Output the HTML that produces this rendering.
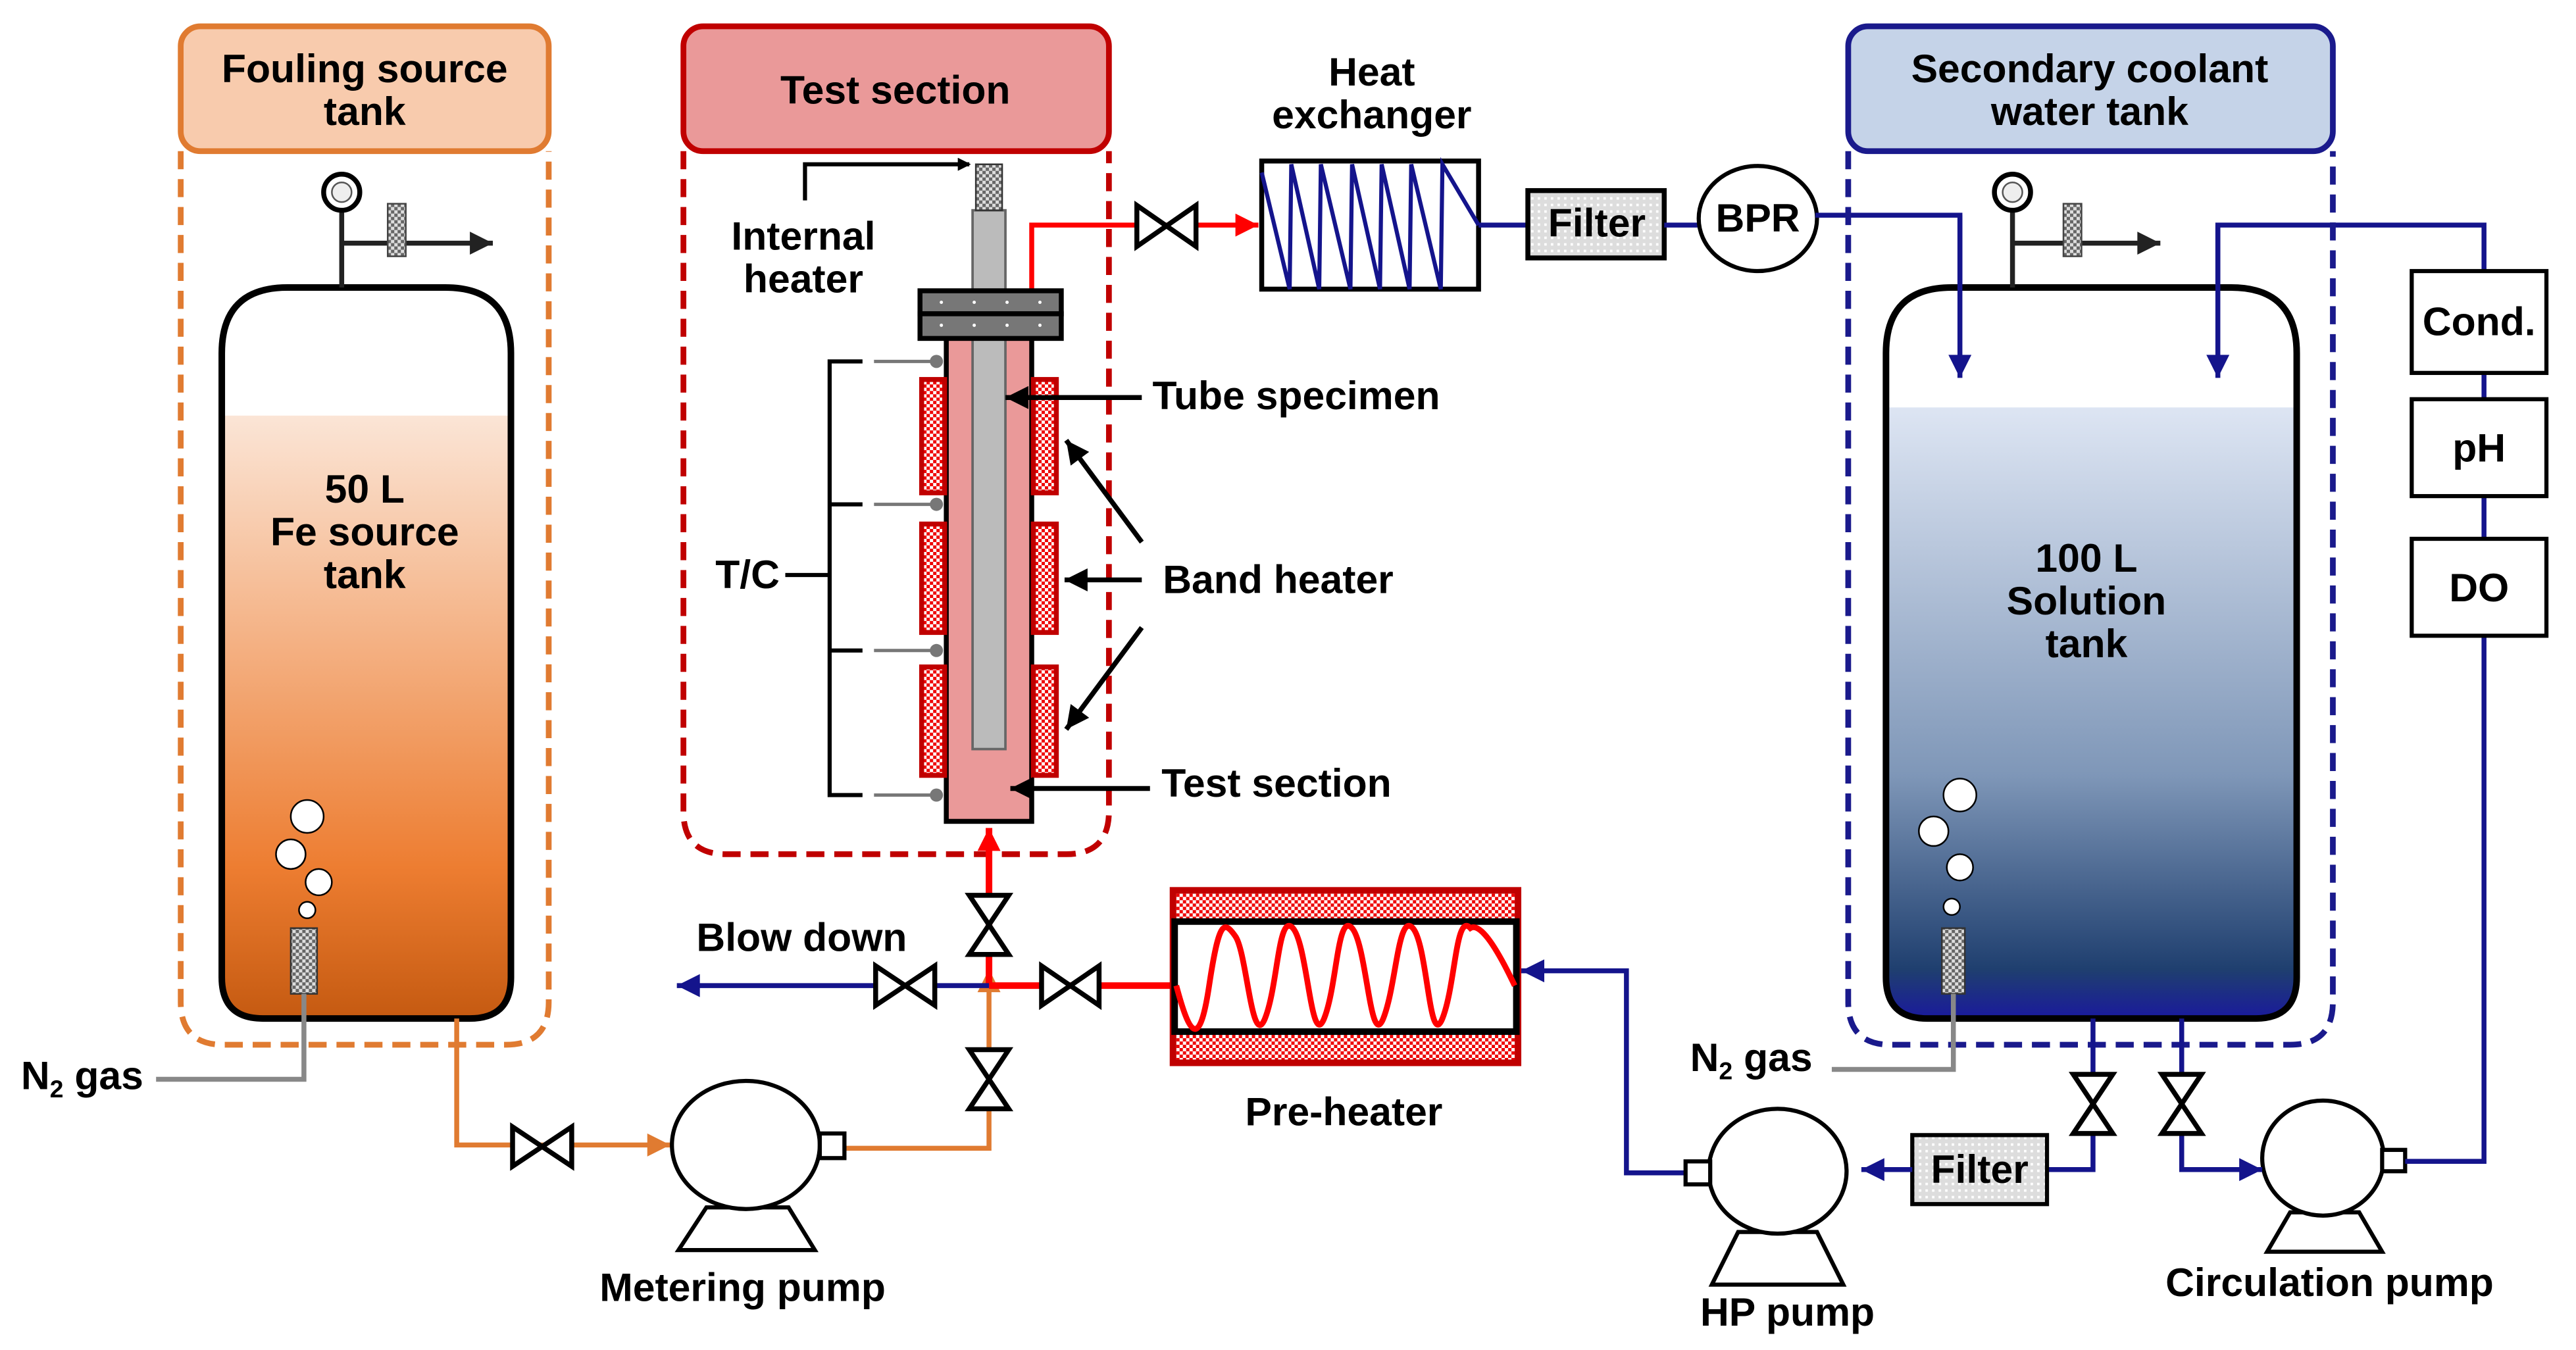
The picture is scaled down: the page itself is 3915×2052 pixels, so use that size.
<!DOCTYPE html>
<html><head><meta charset="utf-8"><style>
html,body{margin:0;padding:0;background:#fff}
svg{display:block}
text{font-family:"Liberation Sans",Arial,sans-serif;font-weight:bold;font-size:24.3px;text-anchor:middle;fill:#000}
</style></head><body>
<svg width="3915" height="2052" viewBox="0 0 1568 821.8" xmlns="http://www.w3.org/2000/svg">
<defs>
<pattern id="hr" width="4" height="4" patternUnits="userSpaceOnUse"><rect width="4" height="4" fill="#fff"/><rect width="2" height="2" fill="#e00"/><rect x="2" y="2" width="2" height="2" fill="#e00"/></pattern>
<pattern id="hg" width="4" height="4" patternUnits="userSpaceOnUse"><rect width="4" height="4" fill="#666"/><rect width="2" height="2" fill="#ddd"/><rect x="2" y="2" width="2" height="2" fill="#ddd"/></pattern>
<pattern id="hf" width="4" height="4" patternUnits="userSpaceOnUse"><rect width="4" height="4" fill="#ddd"/><rect width="1.5" height="1.5" fill="#fff"/></pattern>
<linearGradient id="go" x1="0" y1="0" x2="0" y2="1"><stop offset="0" stop-color="#fbe5d6"/><stop offset="0.75" stop-color="#ed7d31"/><stop offset="1" stop-color="#c55a11"/></linearGradient>
<linearGradient id="gb" x1="0" y1="0" x2="0" y2="1"><stop offset="0" stop-color="#dde5f3"/><stop offset="0.6" stop-color="#7f97b8"/><stop offset="0.92" stop-color="#1f3f6f"/><stop offset="1" stop-color="#1a1a9c"/></linearGradient>
<marker id="ak" markerWidth="8" markerHeight="8" refX="7" refY="4" orient="auto" markerUnits="userSpaceOnUse"><path d="M0,0 L8,4 L0,8z" fill="#000"/></marker>
<marker id="ab" viewBox="0 0 10 10" markerWidth="16" markerHeight="14" refX="10" refY="5" orient="auto" markerUnits="userSpaceOnUse"><path d="M0,0 L10,5 L0,10z" fill="#14148c"/></marker>
<marker id="ar" viewBox="0 0 10 10" markerWidth="16" markerHeight="14" refX="10" refY="5" orient="auto" markerUnits="userSpaceOnUse"><path d="M0,0 L10,5 L0,10z" fill="#f00"/></marker>
<marker id="ao" viewBox="0 0 10 10" markerWidth="16" markerHeight="14" refX="10" refY="5" orient="auto" markerUnits="userSpaceOnUse"><path d="M0,0 L10,5 L0,10z" fill="#e07b31"/></marker>
<marker id="ad" viewBox="0 0 10 10" markerWidth="22" markerHeight="14" refX="10" refY="5" orient="auto" markerUnits="userSpaceOnUse"><path d="M0,0 L10,5 L0,10z" fill="#222"/></marker>
<marker id="ax" viewBox="0 0 10 10" markerWidth="16" markerHeight="14" refX="10" refY="5" orient="auto" markerUnits="userSpaceOnUse"><path d="M0,0 L10,5 L0,10z" fill="#000"/></marker>
</defs>

<!-- Fouling source tank -->
<path d="M110,92 V610 Q110,636 136,636 H308 Q334,636 334,610 V92" fill="none" stroke="#e07b31" stroke-width="3.5" stroke-dasharray="11,6"/>
<rect x="110" y="16" width="224" height="76" rx="12" fill="#f8cbad" stroke="#e07b31" stroke-width="3.5"/>
<text x="222" y="50">Fouling source</text><text x="222" y="76">tank</text>
<path d="M135,620 V215 Q135,175 175,175 H271 Q311,175 311,215 V620 Z" fill="#fff"/>
<path d="M136,253 H310 V595 Q310,620 285,620 H161 Q136,620 136,595 Z" fill="url(#go)"/>
<path d="M135,595 V215 Q135,175 175,175 H271 Q311,175 311,215 V595 Q311,620 286,620 H160 Q135,620 135,595 Z" fill="none" stroke="#000" stroke-width="4"/>
<line x1="208" y1="128" x2="208" y2="175" stroke="#222" stroke-width="3"/>
<line x1="208" y1="148" x2="300" y2="148" stroke="#222" stroke-width="3" marker-end="url(#ad)"/>
<circle cx="208" cy="117" r="11" fill="#fff" stroke="#000" stroke-width="3"/><circle cx="208" cy="117" r="6" fill="#eee" stroke="#555" stroke-width="1"/>
<rect x="236" y="124" width="11" height="32" fill="url(#hg)" stroke="#444"/>
<text x="222" y="306">50 L</text><text x="222" y="332">Fe source</text><text x="222" y="358">tank</text>
<g fill="#fff" stroke="#000" stroke-width="1"><circle cx="187" cy="497" r="10"/><circle cx="177" cy="520" r="9"/><circle cx="194" cy="537" r="8"/><circle cx="187" cy="554" r="5"/></g>
<rect x="177" y="565" width="16" height="40" fill="url(#hg)" stroke="#333"/>
<polyline points="185,605 185,657 95,657" fill="none" stroke="#888" stroke-width="3"/>
<text x="50" y="663">N<tspan font-size="15" dy="5">2</tspan><tspan dy="-5"> gas</tspan></text>

<!-- orange line -->
<polyline points="278,620 278,697 408,697" fill="none" stroke="#e07b31" stroke-width="3" marker-end="url(#ao)"/>
<polyline points="513,699 602,699 602,590" fill="none" stroke="#e07b31" stroke-width="3" marker-end="url(#ao)"/>

<!-- Test section box -->
<path d="M416,92 V494 Q416,520 442,520 H649 Q675,520 675,494 V92" fill="none" stroke="#c00000" stroke-width="3.5" stroke-dasharray="11,6"/>
<rect x="416" y="16" width="259" height="76" rx="12" fill="#ea9999" stroke="#c00000" stroke-width="3.5"/>
<text x="545" y="63">Test section</text>

<!-- red lines -->
<line x1="602" y1="600" x2="602" y2="504" stroke="#f00" stroke-width="4" marker-end="url(#ar)"/>
<line x1="602" y1="600" x2="715" y2="600" stroke="#f00" stroke-width="4"/>
<line x1="602" y1="600" x2="412" y2="600" stroke="#14148c" stroke-width="3" marker-end="url(#ab)"/>
<polyline points="628,200 628,137 766,137" fill="none" stroke="#f00" stroke-width="3" marker-end="url(#ar)"/>

<!-- valves -->
<g fill="#fff" stroke="#000" stroke-width="3">
<path d="M312,686 L312,710 L348,686 L348,710 Z"/>
<path d="M533,588 L533,612 L569,588 L569,612 Z"/>
<path d="M634,588 L634,612 L669,588 L669,612 Z"/>
<path d="M692,125 L692,150 L728,125 L728,150 Z"/>
<path d="M590,545 L614,545 L590,581 L614,581 Z"/>
<path d="M590,639 L614,639 L590,675 L614,675 Z"/>
</g>

<!-- Test section internals -->
<rect x="576" y="195" width="52" height="305" fill="#ea9999" stroke="#000" stroke-width="3"/>
<g fill="url(#hr)" stroke="#c00000" stroke-width="3">
<rect x="561" y="231" width="14" height="69"/><rect x="561" y="319" width="14" height="66"/><rect x="561" y="406" width="14" height="66"/>
<rect x="629" y="231" width="14" height="69"/><rect x="629" y="319" width="14" height="66"/><rect x="629" y="406" width="14" height="66"/>
</g>
<rect x="592" y="128" width="20" height="328" fill="#bbb" stroke="#666" stroke-width="1.5"/>
<rect x="594" y="100" width="16" height="28" fill="url(#hg)" stroke="#333"/>
<rect x="560" y="177" width="86" height="14" fill="#777" stroke="#000" stroke-width="3"/>
<rect x="560" y="191" width="86" height="15" fill="#777" stroke="#000" stroke-width="3"/>
<g fill="#fff"><circle cx="573" cy="184" r="1"/><circle cx="593" cy="184" r="1"/><circle cx="613" cy="184" r="1"/><circle cx="633" cy="184" r="1"/><circle cx="573" cy="198" r="1"/><circle cx="593" cy="198" r="1"/><circle cx="613" cy="198" r="1"/><circle cx="633" cy="198" r="1"/></g>
<polyline points="490,122 490,100 590,100" fill="none" stroke="#000" stroke-width="2.5" marker-end="url(#ak)"/>
<text x="489" y="152">Internal</text><text x="489" y="178">heater</text>
<!-- T/C -->
<polyline points="525,220 505,220 505,484 525,484" fill="none" stroke="#000" stroke-width="2.5"/>
<line x1="505" y1="307" x2="525" y2="307" stroke="#000" stroke-width="2.5"/>
<line x1="505" y1="396" x2="525" y2="396" stroke="#000" stroke-width="2.5"/>
<line x1="478" y1="350" x2="505" y2="350" stroke="#000" stroke-width="2.5"/>
<g stroke="#777" stroke-width="2"><line x1="532" y1="220" x2="568" y2="220"/><line x1="532" y1="307" x2="568" y2="307"/><line x1="532" y1="396" x2="568" y2="396"/><line x1="532" y1="484" x2="568" y2="484"/></g>
<g fill="#777"><circle cx="570" cy="220" r="4"/><circle cx="570" cy="307" r="4"/><circle cx="570" cy="396" r="4"/><circle cx="570" cy="484" r="4"/></g>
<text x="455" y="358">T/C</text>
<g stroke="#000" stroke-width="3">
<line x1="695" y1="242" x2="612" y2="242" marker-end="url(#ax)"/>
<line x1="695" y1="330" x2="649" y2="268" marker-end="url(#ax)"/>
<line x1="695" y1="353" x2="648" y2="353" marker-end="url(#ax)"/>
<line x1="695" y1="382" x2="649" y2="444" marker-end="url(#ax)"/>
<line x1="700" y1="480" x2="615" y2="480" marker-end="url(#ax)"/>
</g>
<text x="789" y="249">Tube specimen</text>
<text x="778" y="361">Band heater</text>
<text x="777" y="485">Test section</text>
<text x="488" y="579">Blow down</text>

<!-- Heat exchanger -->
<text x="835" y="52">Heat</text><text x="835" y="78">exchanger</text>
<rect x="768" y="98" width="132" height="78" fill="#fff" stroke="#000" stroke-width="3"/>
<polyline points="768,105 785,176 786,100 803,176 804,100 822,176 823,100 840,176 841,100 858,176 859,100 877,176 878,100 900,137" fill="none" stroke="#14148c" stroke-width="2.5"/>
<line x1="900" y1="137" x2="930" y2="137" stroke="#14148c" stroke-width="3"/>
<rect x="930" y="116" width="83" height="41" fill="url(#hf)" stroke="#000" stroke-width="3"/>
<text x="972" y="144">Filter</text>
<line x1="1013" y1="137" x2="1035" y2="137" stroke="#14148c" stroke-width="3"/>
<ellipse cx="1070" cy="133" rx="36" ry="32" fill="#fff" stroke="#000" stroke-width="2.5"/>
<text x="1070" y="141">BPR</text>
<polyline points="1105,131 1193,131 1193,230" fill="none" stroke="#14148c" stroke-width="3" marker-end="url(#ab)"/>
<polyline points="1512,165 1512,137 1350,137 1350,230" fill="none" stroke="#14148c" stroke-width="3" marker-end="url(#ab)"/>

<!-- Pre-heater -->
<rect x="714" y="542" width="210" height="105" fill="url(#hr)" stroke="#c00000" stroke-width="4"/>
<rect x="715" y="561" width="208" height="67" fill="#fff" stroke="#000" stroke-width="4"/>
<path d="M716,600 C724,630 730,640 736,600 S745,560 752,570 S762,640 770,620 S778,555 787,565 S798,640 806,620 S814,555 823,565 S834,640 842,620 S851,555 860,565 S870,640 878,620 S886,555 895,565 Q903,560 922,600" fill="none" stroke="#f00" stroke-width="3.5"/>
<text x="818" y="685">Pre-heater</text>
<polyline points="1026,714 990,714 990,591 926,591" fill="none" stroke="#14148c" stroke-width="3" marker-end="url(#ab)"/>

<!-- pumps -->
<g fill="#fff" stroke="#000" stroke-width="2.5">
<path d="M430,735 L480,735 L496,761 L413,761 Z"/>
<ellipse cx="454" cy="697" rx="45" ry="39"/>
<rect x="499" y="690" width="15" height="15"/>
<path d="M1058,750 L1106,750 L1122,782 L1042,782 Z"/>
<ellipse cx="1082" cy="713" rx="42" ry="38"/>
<rect x="1026" y="707" width="15" height="14"/>
<path d="M1394,738 L1436,738 L1450,762 L1380,762 Z"/>
<ellipse cx="1414" cy="705" rx="37" ry="35"/>
<rect x="1450" y="700" width="14" height="13"/>
</g>
<text x="452" y="792">Metering pump</text>
<text x="1088" y="807">HP pump</text>
<text x="1418" y="789">Circulation pump</text>

<!-- Secondary tank -->
<path d="M1125,92 V610 Q1125,636 1151,636 H1394 Q1420,636 1420,610 V92" fill="none" stroke="#1a1a8c" stroke-width="3.5" stroke-dasharray="11,6"/>
<rect x="1125" y="16" width="295" height="76" rx="12" fill="#c5d3e8" stroke="#1a1a8c" stroke-width="3.5"/>
<text x="1272" y="50">Secondary coolant</text><text x="1272" y="76">water tank</text>
<path d="M1148,620 V215 Q1148,175 1188,175 H1358 Q1398,175 1398,215 V620 Z" fill="#fff"/>
<path d="M1149,248 H1397 V595 Q1397,620 1372,620 H1174 Q1149,620 1149,595 Z" fill="url(#gb)"/>
<path d="M1148,595 V215 Q1148,175 1188,175 H1358 Q1398,175 1398,215 V595 Q1398,620 1373,620 H1173 Q1148,620 1148,595 Z" fill="none" stroke="#000" stroke-width="4"/>
<line x1="1193" y1="131" x2="1193" y2="230" stroke="#14148c" stroke-width="3" marker-end="url(#ab)"/>
<line x1="1350" y1="137" x2="1350" y2="230" stroke="#14148c" stroke-width="3" marker-end="url(#ab)"/>
<line x1="1225" y1="128" x2="1225" y2="175" stroke="#222" stroke-width="3"/>
<line x1="1225" y1="148" x2="1315" y2="148" stroke="#222" stroke-width="3" marker-end="url(#ad)"/>
<circle cx="1225" cy="117" r="11" fill="#fff" stroke="#000" stroke-width="3"/><circle cx="1225" cy="117" r="6" fill="#eee" stroke="#555" stroke-width="1"/>
<rect x="1256" y="124" width="11" height="32" fill="url(#hg)" stroke="#444"/>
<text x="1270" y="348">100 L</text><text x="1270" y="374">Solution</text><text x="1270" y="400">tank</text>
<g fill="#fff" stroke="#000" stroke-width="1"><circle cx="1193" cy="484" r="10"/><circle cx="1177" cy="506" r="9"/><circle cx="1193" cy="528" r="8"/><circle cx="1188" cy="552" r="5"/></g>
<rect x="1182" y="565" width="14" height="40" fill="url(#hg)" stroke="#333"/>
<polyline points="1189,605 1189,651 1115,651" fill="none" stroke="#888" stroke-width="3"/>
<text x="1066" y="652">N<tspan font-size="15" dy="5">2</tspan><tspan dy="-5"> gas</tspan></text>

<!-- secondary piping -->
<polyline points="1274,620 1274,712 1246,712" fill="none" stroke="#14148c" stroke-width="3"/>
<rect x="1164" y="691" width="82" height="42" fill="url(#hf)" stroke="#000" stroke-width="2.5"/>
<text x="1205" y="720">Filter</text>
<line x1="1164" y1="712" x2="1133" y2="712" stroke="#14148c" stroke-width="3" marker-end="url(#ab)"/>
<polyline points="1328,620 1328,712 1377,712" fill="none" stroke="#14148c" stroke-width="3" marker-end="url(#ab)"/>
<polyline points="1464,707 1512,707 1512,387" fill="none" stroke="#14148c" stroke-width="3"/>
<line x1="1512" y1="227" x2="1512" y2="243" stroke="#14148c" stroke-width="3"/>
<line x1="1512" y1="302" x2="1512" y2="328" stroke="#14148c" stroke-width="3"/>
<g fill="#fff" stroke="#000" stroke-width="2.5">
<rect x="1468" y="165" width="82" height="62"/><rect x="1468" y="243" width="82" height="59"/><rect x="1468" y="328" width="82" height="59"/>
</g>
<text x="1509" y="204">Cond.</text><text x="1509" y="281">pH</text><text x="1509" y="366">DO</text>
<g fill="#fff" stroke="#000" stroke-width="3">
<path d="M1262,654 L1286,654 L1262,690 L1286,690 Z"/>
<path d="M1316,654 L1340,654 L1316,690 L1340,690 Z"/>
</g>
</svg>
</body></html>
